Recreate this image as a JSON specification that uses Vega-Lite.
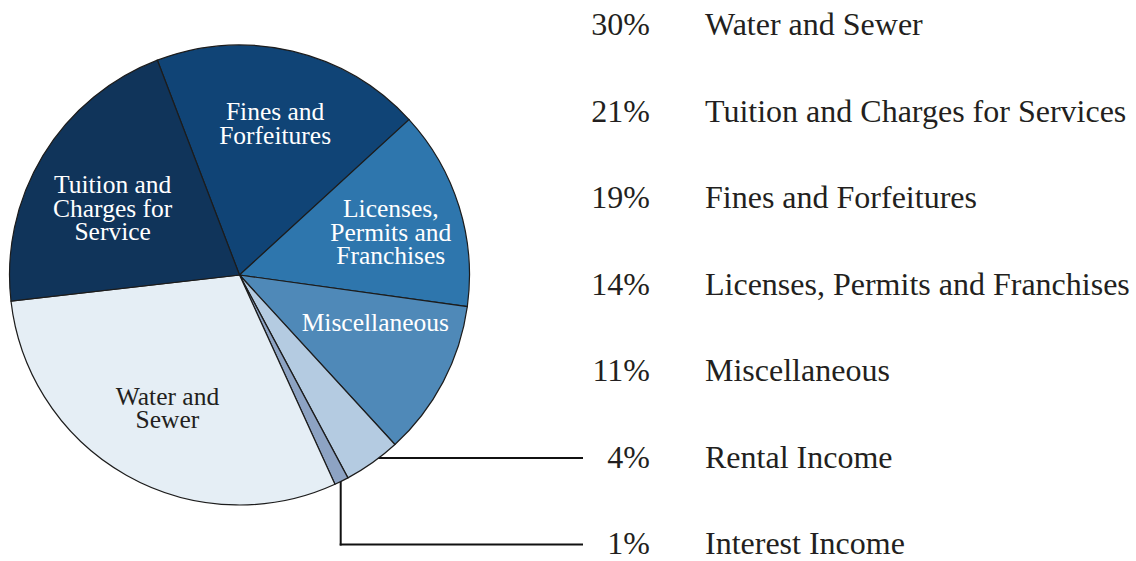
{
  "$schema": "https://vega.github.io/schema/vega-lite/v6.json",
  "autosize": {"type": "fit", "contains": "padding"},
  "width": 1136,
  "height": 561,
  "padding": 0,
  "background": "white",
  "config": {"view": {"stroke": null}},
  "data": {
    "values": [
      {"category": "Fines and Forfeitures", "pct": 19, "pctText": "19%", "seq": 1, "pieLabel": "Fines and\nForfeitures"},
      {"category": "Licenses, Permits and Franchises", "pct": 14, "pctText": "14%", "seq": 2, "pieLabel": "Licenses,\nPermits and\nFranchises"},
      {"category": "Miscellaneous", "pct": 11, "pctText": "11%", "seq": 3, "pieLabel": "Miscellaneous"},
      {"category": "Rental Income", "pct": 4, "pctText": "4%", "seq": 4, "pieLabel": ""},
      {"category": "Interest Income", "pct": 1, "pctText": "1%", "seq": 5, "pieLabel": ""},
      {"category": "Water and Sewer", "pct": 30, "pctText": "30%", "seq": 6, "pieLabel": "Water and\nSewer"},
      {"category": "Tuition and Charges for Services", "pct": 21, "pctText": "21%", "seq": 7, "pieLabel": "Tuition and\nCharges for\nService"}
    ]
  },
  "layer": [
    {
      "transform": [{"filter": "datum.category === 'Rental Income'"}],
      "mark": {"type": "rule", "stroke": "#111111", "strokeWidth": 2, "strokeCap": "square"},
      "encoding": {
        "x": {"value": 239.5},
        "x2": {"value": 582},
        "y": {"field": "category", "type": "nominal", "scale": {"type": "point", "domain": ["Water and Sewer", "Tuition and Charges for Services", "Fines and Forfeitures", "Licenses, Permits and Franchises", "Miscellaneous", "Rental Income", "Interest Income"], "padding": 0.19, "align": 0.77}, "axis": null}
      }
    },
    {
      "transform": [{"filter": "datum.category === 'Interest Income'"}],
      "mark": {"type": "rule", "stroke": "#111111", "strokeWidth": 2, "strokeCap": "square"},
      "encoding": {
        "x": {"value": 340.7},
        "x2": {"value": 582},
        "y": {"field": "category", "type": "nominal", "axis": null}
      }
    },
    {
      "transform": [{"filter": "datum.category === 'Interest Income'"}],
      "mark": {"type": "rule", "stroke": "#111111", "strokeWidth": 2, "strokeCap": "square"},
      "encoding": {
        "x": {"value": 340.7},
        "y": {"field": "category", "type": "nominal", "axis": null},
        "y2": {"value": 275}
      }
    },
    {
      "encoding": {
        "theta": {"field": "pct", "type": "quantitative", "stack": true, "scale": {"range": [-0.365, 5.918]}},
        "order": {"field": "seq", "type": "quantitative"}
      },
      "layer": [
        {
          "mark": {"type": "arc", "outerRadius": 230, "x": 239.5, "y": 275, "stroke": "#1c1c1c", "strokeWidth": 1.2},
          "encoding": {
            "color": {
              "field": "category",
              "type": "nominal",
              "legend": null,
              "scale": {
                "domain": ["Fines and Forfeitures", "Licenses, Permits and Franchises", "Miscellaneous", "Rental Income", "Interest Income", "Water and Sewer", "Tuition and Charges for Services"],
                "range": ["#104476", "#2e76ad", "#4f89b8", "#b4cbe1", "#8da3c3", "#e5eef5", "#10345a"]
              }
            }
          }
        },
        {
          "mark": {"type": "text", "x": 239.5, "y": 275, "radius": 155, "thetaOffset": 0, "dy": -11.75, "font": "Liberation Serif", "fontSize": 25.5, "lineHeight": 23.5, "lineBreak": "\n", "align": "center", "baseline": "middle", "fill": "white"},
          "encoding": {
            "detail": {"field": "category", "type": "nominal"},
            "text": {"condition": {"test": "datum.category === 'Fines and Forfeitures'", "field": "pieLabel"}, "value": ""}
          }
        },
        {
          "mark": {"type": "text", "x": 239.5, "y": 275, "radius": 157, "thetaOffset": 0.031, "dy": -23.5, "font": "Liberation Serif", "fontSize": 25.5, "lineHeight": 23.5, "lineBreak": "\n", "align": "center", "baseline": "middle", "fill": "white"},
          "encoding": {
            "detail": {"field": "category", "type": "nominal"},
            "text": {"condition": {"test": "datum.category === 'Licenses, Permits and Franchises'", "field": "pieLabel"}, "value": ""}
          }
        },
        {
          "mark": {"type": "text", "x": 239.5, "y": 275, "radius": 144, "thetaOffset": -0.145, "font": "Liberation Serif", "fontSize": 25.5, "lineHeight": 23.5, "lineBreak": "\n", "align": "center", "baseline": "middle", "fill": "white"},
          "encoding": {
            "detail": {"field": "category", "type": "nominal"},
            "text": {"condition": {"test": "datum.category === 'Miscellaneous'", "field": "pieLabel"}, "value": ""}
          }
        },
        {
          "mark": {"type": "text", "x": 239.5, "y": 275, "radius": 151.5, "thetaOffset": -0.019, "dy": -11.75, "font": "Liberation Serif", "fontSize": 25.5, "lineHeight": 23.5, "lineBreak": "\n", "align": "center", "baseline": "middle", "fill": "#231f20"},
          "encoding": {
            "detail": {"field": "category", "type": "nominal"},
            "text": {"condition": {"test": "datum.category === 'Water and Sewer'", "field": "pieLabel"}, "value": ""}
          }
        },
        {
          "mark": {"type": "text", "x": 239.5, "y": 275, "radius": 143, "thetaOffset": -0.066, "dy": -23.5, "font": "Liberation Serif", "fontSize": 25.5, "lineHeight": 23.5, "lineBreak": "\n", "align": "center", "baseline": "middle", "fill": "white"},
          "encoding": {
            "detail": {"field": "category", "type": "nominal"},
            "text": {"condition": {"test": "datum.category === 'Tuition and Charges for Services'", "field": "pieLabel"}, "value": ""}
          }
        }
      ]
    },
    {
      "mark": {"type": "text", "font": "Liberation Serif", "fontSize": 32, "align": "right", "baseline": "middle", "fill": "#231f20"},
      "encoding": {
        "x": {"value": 650},
        "y": {"field": "category", "type": "nominal", "axis": null},
        "text": {"field": "pctText"}
      }
    },
    {
      "mark": {"type": "text", "font": "Liberation Serif", "fontSize": 32, "align": "left", "baseline": "middle", "fill": "#231f20"},
      "encoding": {
        "x": {"value": 705},
        "y": {"field": "category", "type": "nominal", "axis": null},
        "text": {"field": "category"}
      }
    }
  ]
}
